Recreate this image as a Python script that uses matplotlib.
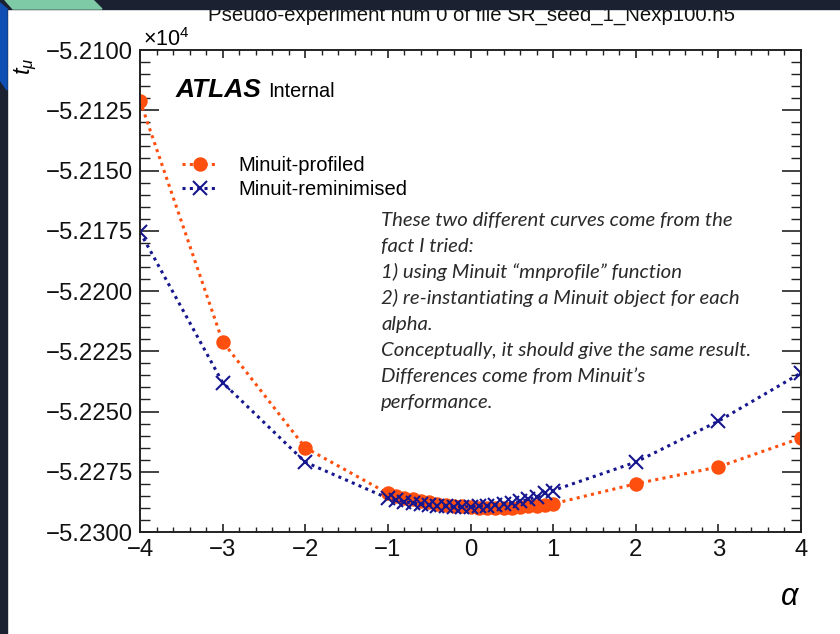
import matplotlib.pyplot as plt
import numpy as np
from matplotlib.patches import Polygon
from matplotlib.ticker import MultipleLocator, FuncFormatter

plt.rcParams['font.family'] = ['Liberation Sans', 'DejaVu Sans']
plt.rcParams['mathtext.fontset'] = 'custom'
plt.rcParams['mathtext.rm'] = 'Liberation Sans'
plt.rcParams['mathtext.it'] = 'Liberation Sans:italic'

# scan points in alpha
alpha = [-4, -3, -2, -1.0, -0.9, -0.8, -0.7, -0.6, -0.5, -0.4, -0.3, -0.2, -0.1,
         0.0, 0.1, 0.2, 0.3, 0.4, 0.5, 0.6, 0.7, 0.8, 0.9, 1.0, 2, 3, 4]

profiled = [-52121.0, -52221.0, -52265.0,
            -52284.0, -52284.9, -52285.7, -52286.5, -52287.1, -52287.7, -52288.3,
            -52288.7, -52289.1, -52289.4, -52289.7, -52289.9, -52290.0, -52290.0,
            -52290.0, -52289.9, -52289.7, -52289.4, -52289.1, -52288.7, -52288.3,
            -52280.0, -52273.0, -52261.0]

reminimised = [-52175.5, -52238.0, -52271.0,
               -52286.0, -52286.8, -52287.4, -52288.0, -52288.4, -52288.8, -52289.1,
               -52289.3, -52289.5, -52289.5, -52289.5, -52289.3, -52289.1, -52288.8,
               -52288.4, -52287.9, -52287.3, -52286.5, -52285.4, -52284.0, -52282.8,
               -52271.0, -52254.0, -52234.0]

note_lines = ["These two different curves come from the",
              "fact I tried:",
              "1) using Minuit \u201cmnprofile\u201d function",
              "2) re-instantiating a Minuit object for each",
              "alpha.",
              "Conceptually, it should give the same result.",
              "Differences come from Minuit\u2019s",
              "performance."]

W, H = 840, 634
ORANGE = '#ff4f0f'
NAVY = '#16168e'
DARK = '#1b2130'


def px(x, y):
    return (x / W, 1 - y / H)


fig = plt.figure(figsize=(8.4, 6.34), dpi=100)
ax = fig.add_axes([140 / W, 1 - 532 / H, 661 / W, 482 / H])

ax.plot(alpha, profiled, color=ORANGE, ls=(0, (1, 1.4)), lw=2.2,
        marker='o', ms=9.4, mec=ORANGE, mfc=ORANGE, label='Minuit-profiled')
ax.plot(alpha, reminimised, color=NAVY, ls=(0, (1, 1.4)), lw=2.2,
        marker='x', ms=9.5, mew=1.5, label='Minuit-reminimised')

ax.set_xlim(-4, 4)
ax.set_ylim(-52300, -52100)
ax.xaxis.set_major_locator(MultipleLocator(1))
ax.xaxis.set_minor_locator(MultipleLocator(0.2))
ax.yaxis.set_major_locator(MultipleLocator(25))
ax.yaxis.set_minor_locator(MultipleLocator(5))
ax.xaxis.set_major_formatter(FuncFormatter(lambda v, p: f"{v:.0f}".replace('-', '\u2212')))
ax.yaxis.set_major_formatter(FuncFormatter(lambda v, p: f"{v / 1e4:.4f}".replace('-', '\u2212')))

ax.tick_params(which='both', direction='in', top=True, right=True, color='#222222',
               labelsize=17.2, labelcolor='#111111')
ax.tick_params(axis='x', which='major', length=6, width=1.2, pad=5)
ax.tick_params(axis='x', which='minor', length=3.5, width=1.0)
ax.tick_params(axis='y', which='major', length=14, width=1.2, pad=5)
ax.tick_params(axis='y', which='minor', length=7, width=1.0)
for s in ax.spines.values():
    s.set_linewidth(1.4)
    s.set_color('#222222')

ax.legend(loc='upper left', bbox_to_anchor=px(182, 156), bbox_transform=fig.transFigure,
          frameon=False, fontsize=14.5, handlelength=1.75, handletextpad=1.05,
          borderpad=0, borderaxespad=0, labelspacing=0.27)

fig.text(*px(176, 97), 'ATLAS', fontsize=19, weight='bold', style='italic', va='baseline')
fig.text(*px(268, 97), 'Internal', fontsize=14.3, va='baseline')
fig.text(*px(471, 21), 'Pseudo-experiment num 0 of file SR_seed_1_Nexp100.h5',
         fontsize=14.7, ha='center', va='baseline', color='#111111')
fig.text(*px(143, 46), r'$\times10^{4}$', fontsize=15.5, va='baseline')
fig.text(*px(790, 605), r'$\alpha$', fontsize=22, ha='center', va='baseline',
         family=['DejaVu Sans'])
fig.text(*px(26, 66), r'$t_{\mu}$', fontsize=17, rotation=90, ha='center', va='center')

for i, line in enumerate(note_lines):
    fig.text(*px(381, 226 + 26 * i), line, fontsize=14.7, family=['Lato', 'DejaVu Sans'],
             style='italic', va='baseline', color='#2a2a2a')

# slide frame around the screenshot
fig.add_artist(Polygon([px(0, 0), px(W, 0), px(W, 9), px(0, 9)], closed=True,
                       transform=fig.transFigure, color=DARK, zorder=10))
fig.add_artist(Polygon([px(0, 0), px(7, 0), px(7, H), px(0, H)], closed=True,
                       transform=fig.transFigure, color=DARK, zorder=10))
fig.add_artist(Polygon([px(5, 0), px(93, 0), px(102, 9), px(13, 9)], closed=True,
                       transform=fig.transFigure, color='#7fcaa6', zorder=11))
fig.add_artist(Polygon([px(0, 3), px(7, 9), px(7, 90), px(0, 80)], closed=True,
                       transform=fig.transFigure, color='#0f4fb3', zorder=11))

fig.savefig('out.png', dpi=100)
